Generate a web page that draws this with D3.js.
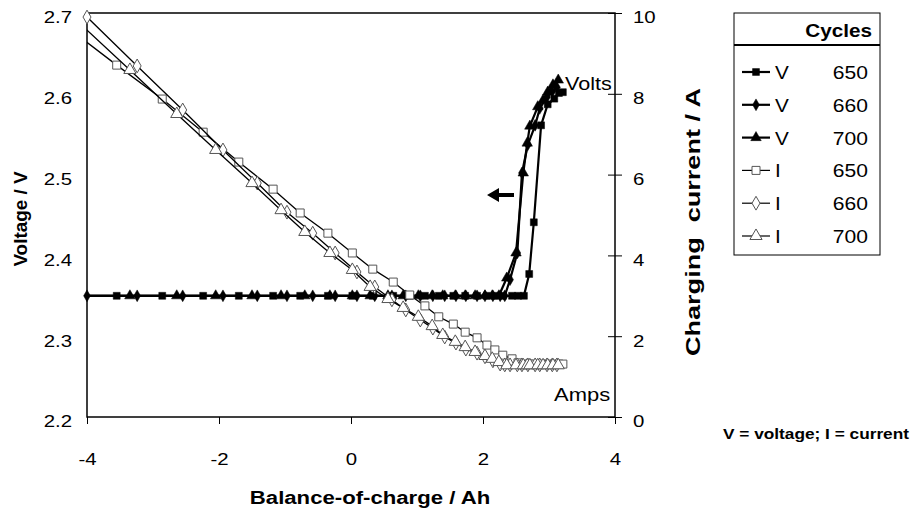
<!DOCTYPE html>
<html lang="en">
<head>
  <meta charset="UTF-8">
  <title>Voltage and charging current vs balance-of-charge</title>
  <script src="https://cdn.jsdelivr.net/npm/d3@7"></script>
  <style>
    body { margin: 0; background: #fff; }
    svg { font-family: "Liberation Sans", Arial, sans-serif; }
    .tick text { font-size: 17px; fill: #000; }
    .title { font-size: 18px; font-weight: bold; }
  </style>
</head>
<body>
<svg width="912" height="511"></svg>
<script>
  // balance-of-charge (Ah), voltage (V) and current (A) per cycle
  const x650 = [-4.23, -3.55, -2.86, -2.24, -1.70, -1.18, -0.77, -0.35, 0.02, 0.33, 0.64, 0.89, 1.12, 1.33, 1.55,
    1.73, 1.91, 2.06, 2.18, 2.30, 2.44, 2.53, 2.62, 2.70, 2.77, 2.88, 2.98, 3.08, 3.15, 3.21];
  const v650 = [2.35, 2.35, 2.35, 2.35, 2.35, 2.35, 2.35, 2.35, 2.35, 2.35, 2.35, 2.35, 2.35, 2.35, 2.35,
    2.35, 2.35, 2.35, 2.35, 2.35, 2.35, 2.35, 2.35, 2.377, 2.441, 2.561, 2.587, 2.594, 2.601, 2.602];
  const i650 = [9.56, 8.71, 7.87, 7.05, 6.31, 5.64, 5.05, 4.55, 4.06, 3.66, 3.34, 3.02, 2.75, 2.48, 2.30,
    2.10, 1.96, 1.78, 1.66, 1.53, 1.44, 1.34, 1.31, 1.31, 1.31, 1.31, 1.31, 1.31, 1.31, 1.31];

  const x660 = [-4.00, -3.24, -2.55, -1.94, -1.42, -0.97, -0.58, -0.24, 0.09, 0.36, 0.62, 0.83, 1.05, 1.24, 1.42,
    1.59, 1.74, 1.91, 2.03, 2.15, 2.26, 2.33, 2.41, 2.52, 2.59, 2.68, 2.79, 2.86, 2.97, 3.05, 3.12];
  const v660 = [2.35, 2.35, 2.35, 2.35, 2.35, 2.35, 2.35, 2.35, 2.35, 2.35, 2.35, 2.35, 2.35, 2.35, 2.35,
    2.35, 2.35, 2.35, 2.35, 2.35, 2.35, 2.35, 2.370, 2.403, 2.502, 2.537, 2.561, 2.582, 2.596, 2.603, 2.608];
  const i660 = [9.90, 8.69, 7.60, 6.61, 5.79, 5.07, 4.55, 4.06, 3.59, 3.22, 2.90, 2.65, 2.40, 2.20, 1.98,
    1.83, 1.68, 1.58, 1.49, 1.39, 1.31, 1.29, 1.29, 1.29, 1.29, 1.29, 1.29, 1.29, 1.29, 1.29, 1.29];

  const x700 = [-4.18, -3.35, -2.64, -2.05, -1.50, -1.06, -0.70, -0.32, 0.02, 0.29, 0.56, 0.79, 1.02, 1.23, 1.39,
    1.58, 1.73, 1.88, 2.03, 2.14, 2.24, 2.36, 2.50, 2.61, 2.67, 2.71, 2.83, 2.91, 2.98, 3.06, 3.14];
  const v700 = [2.35, 2.35, 2.35, 2.35, 2.35, 2.35, 2.35, 2.35, 2.35, 2.35, 2.35, 2.35, 2.35, 2.35, 2.35,
    2.35, 2.35, 2.35, 2.35, 2.35, 2.35, 2.372, 2.403, 2.502, 2.539, 2.560, 2.584, 2.592, 2.602, 2.611, 2.617];
  const i700 = [9.85, 8.59, 7.50, 6.61, 5.79, 5.12, 4.58, 4.06, 3.64, 3.22, 2.92, 2.70, 2.48, 2.25, 2.03,
    1.86, 1.73, 1.61, 1.51, 1.44, 1.36, 1.28, 1.28, 1.28, 1.28, 1.28, 1.28, 1.28, 1.28, 1.28, 1.28];

  const xTicks = [-4, -2, 0, 2, 4];
  const vTicks = [2.2, 2.3, 2.4, 2.5, 2.6, 2.7];
  const iTicks = [0, 2, 4, 6, 8, 10];

  const series = [
    { kind: "V", cycle: 650, sym: "square", filled: true, xs: x650, ys: v650 },
    { kind: "V", cycle: 660, sym: "diamond", filled: true, xs: x660, ys: v660 },
    { kind: "V", cycle: 700, sym: "triangle", filled: true, xs: x700, ys: v700 },
    { kind: "I", cycle: 650, sym: "square", filled: false, xs: x650, ys: i650 },
    { kind: "I", cycle: 660, sym: "diamond", filled: false, xs: x660, ys: i660 },
    { kind: "I", cycle: 700, sym: "triangle", filled: false, xs: x700, ys: i700 }
  ];

  const plot = { left: 87, right: 615, top: 13, bottom: 417 };

  const x = d3.scaleLinear().domain([-4, 4]).range([plot.left, plot.right]);
  const yV = d3.scaleLinear().domain([2.2, 2.7]).range([plot.bottom, plot.top]);
  const yI = d3.scaleLinear().domain([0, 10]).range([plot.bottom, plot.top]);

  const svg = d3.select("svg");

  // the original lettering is a bit wider than Arial, stretch it
  function widen(sel, k) {
    sel.each(function() {
      const w = this.getComputedTextLength();
      d3.select(this).attr("textLength", w * k).attr("lengthAdjust", "spacingAndGlyphs");
    });
    return sel;
  }

  svg.append("clipPath").attr("id", "clip")
    .append("rect")
    .attr("x", plot.left).attr("y", plot.top)
    .attr("width", plot.right - plot.left).attr("height", plot.bottom - plot.top);

  // frame
  svg.append("rect")
    .attr("x", plot.left).attr("y", plot.top)
    .attr("width", plot.right - plot.left).attr("height", plot.bottom - plot.top)
    .attr("fill", "none").attr("stroke", "#000").attr("stroke-width", 1.5);

  // bottom axis
  const gx = svg.append("g")
    .attr("transform", `translate(0,${plot.bottom})`)
    .call(d3.axisBottom(x).tickValues(xTicks).tickSize(7).tickPadding(29).tickFormat(d => String(d)));
  gx.select(".domain").remove();
  gx.selectAll(".tick line").attr("stroke", "#000");
  widen(gx.selectAll(".tick text"), 1.2);

  // left axis (labels only)
  const gl = svg.append("g")
    .attr("transform", `translate(${plot.left},0)`)
    .call(d3.axisLeft(yV).tickValues(vTicks).tickSize(0).tickPadding(15).tickFormat(d3.format(".1f")));
  gl.select(".domain").remove();
  gl.selectAll(".tick text").attr("dy", "0.58em");
  widen(gl.selectAll(".tick text"), 1.2);

  // right axis with cross ticks
  const gr = svg.append("g")
    .attr("transform", `translate(${plot.right},0)`)
    .call(d3.axisRight(yI).tickValues(iTicks).tickSize(7).tickPadding(11).tickFormat(d => String(d)));
  gr.select(".domain").remove();
  gr.selectAll(".tick line").attr("x1", -7).attr("x2", 7).attr("stroke", "#000");
  gr.selectAll(".tick text").attr("dy", "0.58em");
  widen(gr.selectAll(".tick text"), 1.2);

  // axis titles
  svg.append("text").attr("class", "title")
    .attr("transform", "translate(27,219) rotate(-90)")
    .attr("text-anchor", "middle").text("Voltage / V")
    .call(widen, 1.05);
  svg.append("text").attr("class", "title")
    .attr("transform", "translate(700,222) rotate(-90)")
    .attr("text-anchor", "middle").attr("xml:space", "preserve")
    .style("font-size", "20px")
    .attr("textLength", 268).attr("lengthAdjust", "spacingAndGlyphs")
    .text("Charging  current / A");
  svg.append("text").attr("class", "title")
    .attr("x", 370).attr("y", 504)
    .attr("text-anchor", "middle").text("Balance-of-charge / Ah")
    .call(widen, 1.23);

  function symbolPath(sym, filled) {
    const type = sym === "square" ? d3.symbolSquare : sym === "diamond" ? d3.symbolDiamond : d3.symbolTriangle;
    const size = filled ? (sym === "diamond" ? 40 : 48) : (sym === "diamond" ? 55 : 64);
    return d3.symbol().type(type).size(size)();
  }

  const body = svg.append("g");

  series.forEach(s => {
    const yScale = s.kind === "V" ? yV : yI;
    const pts = s.xs.map((d, k) => [d, s.ys[k]]);
    const line = d3.line().x(d => x(d[0])).y(d => yScale(d[1]));

    body.append("path")
      .datum(pts)
      .attr("clip-path", "url(#clip)")
      .attr("fill", "none")
      .attr("stroke", "#000")
      .attr("stroke-width", s.kind === "V" ? 2.2 : 1.3)
      .attr("d", line);

    body.append("g")
      .selectAll("path")
      .data(pts.filter(d => d[0] >= -4))
      .join("path")
      .attr("transform", d => `translate(${x(d[0])},${yScale(d[1])})`)
      .attr("d", symbolPath(s.sym, s.filled))
      .attr("fill", s.filled ? "#000" : "#fff")
      .attr("stroke", s.filled ? "#000" : "#555")
      .attr("stroke-width", s.filled ? 0.5 : 1);
  });

  // annotations
  svg.append("text").attr("x", 565).attr("y", 90).attr("font-size", 18).text("Volts").call(widen, 1.2);
  svg.append("text").attr("x", 554).attr("y", 401).attr("font-size", 18).text("Amps").call(widen, 1.22);
  svg.append("path")
    .attr("d", "M487,195 L499,188 L499,193 L514,193 L514,197 L499,197 L499,202 Z")
    .attr("fill", "#000");

  // legend
  const lg = svg.append("g");
  lg.append("rect")
    .attr("x", 734).attr("y", 13).attr("width", 146).attr("height", 242)
    .attr("fill", "#fff").attr("stroke", "#000").attr("stroke-width", 1);
  lg.append("line")
    .attr("x1", 734).attr("x2", 880).attr("y1", 45).attr("y2", 45)
    .attr("stroke", "#000").attr("stroke-width", 1.8);
  lg.append("text")
    .attr("x", 872).attr("y", 37).attr("text-anchor", "end")
    .attr("class", "title").text("Cycles")
    .call(widen, 1.15);

  const rowY = d3.scalePoint().domain(d3.range(series.length)).range([72, 236]);
  series.forEach((s, k) => {
    const cy = rowY(k);
    lg.append("line")
      .attr("x1", 742).attr("x2", 770).attr("y1", cy).attr("y2", cy)
      .attr("stroke", "#000").attr("stroke-width", s.kind === "V" ? 2.2 : 1.2);
    lg.append("path")
      .attr("transform", `translate(756,${cy})`)
      .attr("d", symbolPath(s.sym, s.filled))
      .attr("fill", s.filled ? "#000" : "#fff")
      .attr("stroke", s.filled ? "#000" : "#555")
      .attr("stroke-width", s.filled ? 0.5 : 1);
    lg.append("text")
      .attr("x", 775).attr("y", cy + 7).attr("font-size", 18).text(s.kind)
      .call(widen, 1.15);
    lg.append("text")
      .attr("x", 868).attr("y", cy + 7).attr("font-size", 18).attr("text-anchor", "end").text(s.cycle)
      .call(widen, 1.17);
  });

  svg.append("text")
    .attr("x", 723).attr("y", 439)
    .attr("font-size", 15).attr("font-weight", "bold")
    .text("V = voltage; I = current")
    .call(widen, 1.15);
</script>
</body>
</html>
